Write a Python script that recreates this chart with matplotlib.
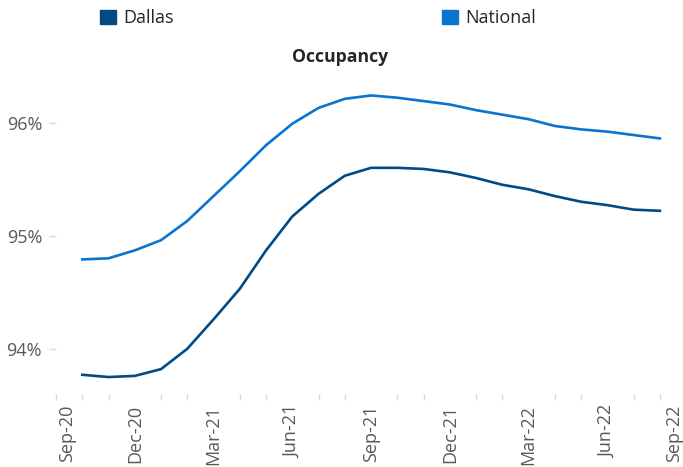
import matplotlib.pyplot as plt
from matplotlib.patches import Patch

# monthly data, Oct-20 .. Aug-22
months = ["Oct-20", "Nov-20", "Dec-20", "Jan-21", "Feb-21", "Mar-21", "Apr-21", "May-21",
          "Jun-21", "Jul-21", "Aug-21", "Sep-21", "Oct-21", "Nov-21", "Dec-21", "Jan-22",
          "Feb-22", "Mar-22", "Apr-22", "May-22", "Jun-22", "Jul-22", "Aug-22"]
dallas = [93.77, 93.75, 93.76, 93.82, 94.00, 94.26, 94.53, 94.87, 95.17, 95.37, 95.53, 95.60,
          95.60, 95.59, 95.56, 95.51, 95.45, 95.41, 95.35, 95.30, 95.27, 95.23, 95.22]
national = [94.79, 94.80, 94.87, 94.96, 95.13, 95.35, 95.57, 95.80, 95.99, 96.13, 96.21, 96.24,
            96.22, 96.19, 96.16, 96.11, 96.07, 96.03, 95.97, 95.94, 95.92, 95.89, 95.86]
tick_labels = ["Sep-20", "Dec-20", "Mar-21", "Jun-21", "Sep-21", "Dec-21", "Mar-22", "Jun-22", "Sep-22"]
tick_pos = [0.42, 3, 6, 9, 12, 15, 18, 21, 23.55]

dark = "#004A86"
light = "#0A74CF"
gray = "#595959"

plt.rcParams['font.family'] = ['Open Sans', 'DejaVu Sans']

fig = plt.figure(figsize=(6.83, 4.67), dpi=100)
ax = fig.add_axes([56/683, 1 - 394/467, 627/683, 324/467])

x = list(range(1, len(months) + 1))  # Sep-20 = 0
ax.plot(x, dallas, color=dark, lw=1.9, solid_joinstyle='round')
ax.plot(x, national, color=light, lw=1.9, solid_joinstyle='round')

ax.set_xlim(0, 23.88)
ax.set_ylim(93.6, 96.465)

for s in ax.spines.values():
    s.set_visible(False)

ax.set_yticks([94, 95, 96])
ax.set_yticklabels(["94%", "95%", "96%"])
ax.tick_params(axis='y', colors="#d9d9d9", labelcolor=gray, labelsize=13, length=5, width=1, pad=5)

ax.set_xticks(range(0, 24), minor=True)
ax.set_xticks(tick_pos)
ax.set_xticklabels(tick_labels, rotation=90)
ax.tick_params(axis='x', which='minor', colors="#d9d9d9", length=4, width=1)
ax.tick_params(axis='x', which='major', length=0, labelcolor=gray, labelsize=13, pad=8)

fig.text(340/683, 1 - 57/467, "Occupancy", ha='center', va='center',
         fontsize=12.7, fontweight='bold', color="#262626")

handles = [Patch(color=dark, label="Dallas"), Patch(color=light, label="National")]
fig.legend(handles=handles, loc='center left', bbox_to_anchor=(84/683, 1 - 18/467), ncol=2,
           frameon=False, handlelength=0.85, handleheight=0.85, handletextpad=0.4,
           columnspacing=14.9, fontsize=13, labelcolor="#262626")

fig.savefig("out.png", dpi=100)
